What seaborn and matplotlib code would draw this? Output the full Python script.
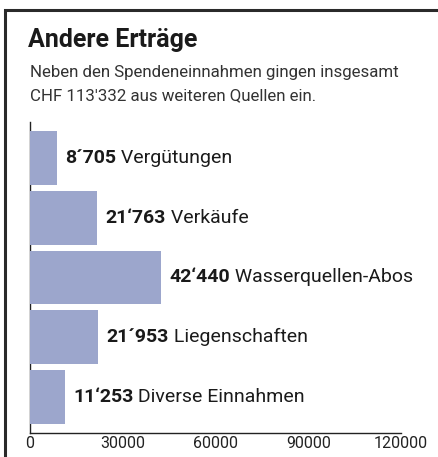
import matplotlib
matplotlib.use("Agg")
import matplotlib.pyplot as plt
import seaborn as sns
import pandas as pd
from matplotlib.lines import Line2D

categories = ["Vergütungen", "Verkäufe", "Wasserquellen-Abos", "Liegenschaften", "Diverse Einnahmen"]
values = [8705, 21763, 42440, 21953, 11253]
value_labels = ["8´705", "21‘763", "42‘440", "21´953", "11‘253"]
xticks = [0, 30000, 60000, 90000, 120000]

title = "Andere Erträge"
subtitle = ["Neben den Spendeneinnahmen gingen insgesamt", "CHF 113'332 aus weiteren Quellen ein."]

sns.set_theme(style="white")
plt.rcParams["font.family"] = ["Roboto", "DejaVu Sans"]

W, H = 438, 457
fig = plt.figure(figsize=(W / 100, H / 100), dpi=100)
ax = fig.add_axes([30 / W, 1 - 433 / H, (401 - 30) / W, (433 - 122) / H])

df = pd.DataFrame({"cat": categories, "val": values})
sns.barplot(data=df, x="val", y="cat", ax=ax, color="#9ca6cc", saturation=1, width=0.9,
            linewidth=0, zorder=3)

ax.set_xlim(0, 120000)
ax.set_ylim(4.6, -0.6)
ax.set_xticks(xticks)
ax.set_xticklabels([str(t) for t in xticks])
ax.set_yticks([])
ax.set_xlabel("")
ax.set_ylabel("")
for s in ["top", "right"]:
    ax.spines[s].set_visible(False)
for s in ["left", "bottom"]:
    ax.spines[s].set_color("#222222")
    ax.spines[s].set_linewidth(1.0)
ax.tick_params(axis="x", direction="in", length=6, width=0.8, color="#888888",
               labelsize=11.5, labelcolor="#222222", pad=2)

fig.canvas.draw()
for i, (v, vl, c) in enumerate(zip(values, value_labels, categories)):
    t = ax.annotate(vl, xy=(v, i), xytext=(6, 0), textcoords="offset points",
                    ha="left", va="center", fontsize=14, fontweight="bold", color="#1a1a1a")
    ax.annotate(" " + c, xy=(1, 0), xycoords=t, xytext=(0, 0), textcoords="offset points",
                ha="left", va="bottom", fontsize=14, color="#1a1a1a")

fig.text(28 / W, 1 - 47 / H, title, fontsize=18, fontweight="bold", color="#1a1a1a",
         ha="left", va="baseline")
fig.text(30 / W, 1 - 77 / H, subtitle[0], fontsize=12.2, color="#333333", ha="left", va="baseline")
fig.text(30 / W, 1 - 100 / H, subtitle[1], fontsize=12.2, color="#333333", ha="left", va="baseline")

fig.lines.append(Line2D([5 / W, 5 / W, 1.0], [0.0, 1 - 10 / H, 1 - 10 / H], transform=fig.transFigure,
                        color="#2a2a2a", linewidth=2.2, solid_joinstyle="miter"))

fig.savefig("out.png", dpi=100)
